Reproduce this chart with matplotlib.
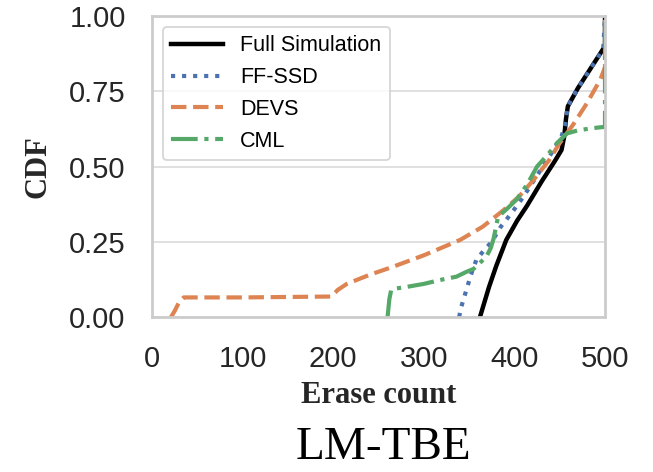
import matplotlib
matplotlib.use("Agg")
import matplotlib.pyplot as plt
import numpy as np

# erase-count CDFs per method
full_x = [362, 365, 372, 380, 391, 403, 414, 430, 445, 452, 455, 457, 459, 470, 485, 500, 500]
full_y = [0, 0.03, 0.10, 0.17, 0.256, 0.32, 0.37, 0.45, 0.52, 0.555, 0.60, 0.66, 0.70, 0.76, 0.83, 0.90, 1.0]

ffssd_x = [339, 341, 344, 348, 352, 358, 366, 375, 385, 398, 410, 425, 440, 452, 456, 459, 470, 485, 498, 500]
ffssd_y = [0, 0.03, 0.06, 0.10, 0.14, 0.19, 0.22, 0.25, 0.30, 0.35, 0.40, 0.47, 0.54, 0.60, 0.64, 0.70, 0.76, 0.83, 0.89, 1.0]

devs_x = [21, 25, 30, 35, 100, 198, 205, 215, 240, 266, 300, 340, 365, 388, 405, 421, 438, 450, 465, 480, 495, 500, 500]
devs_y = [0, 0.02, 0.05, 0.065, 0.065, 0.068, 0.09, 0.11, 0.14, 0.167, 0.205, 0.256, 0.30, 0.355, 0.40, 0.455, 0.52, 0.578, 0.64, 0.71, 0.79, 0.83, 1.0]

cml_x = [260, 261, 262, 264, 270, 281, 300, 318, 336, 347, 355, 362, 369, 374, 377, 382, 392, 402, 414, 425, 437, 447, 458, 470, 485, 500, 500]
cml_y = [0, 0.03, 0.06, 0.09, 0.095, 0.10, 0.11, 0.123, 0.134, 0.15, 0.16, 0.18, 0.20, 0.23, 0.26, 0.333, 0.36, 0.389, 0.44, 0.50, 0.54, 0.578, 0.61, 0.62, 0.627, 0.632, 1.0]

x_ticks = [0, 100, 200, 300, 400, 500]
y_ticks = [0.0, 0.25, 0.5, 0.75, 1.0]

sans = ["Liberation Sans", "DejaVu Sans"]
serif = ["Liberation Serif", "DejaVu Serif"]

fig = plt.figure(figsize=(6.53, 4.72), dpi=100)
ax = fig.add_axes([0.2328, 0.3284, 0.6937, 0.6376])

ax.plot(full_x, full_y, color="black", lw=3.2, ls="-", label="Full Simulation")
ax.plot(ffssd_x, ffssd_y, color="#4C72B0", lw=3, ls=":", label="FF-SSD")
ax.plot(devs_x, devs_y, color="#DD8452", lw=3, ls="--", label="DEVS")
ax.plot(cml_x, cml_y, color="#55A868", lw=3, ls="-.", label="CML")

ax.set_xlim(0, 500)
ax.set_ylim(0, 1.0)
ax.set_xticks(x_ticks)
ax.set_yticks(y_ticks)
ax.set_yticklabels(["%.2f" % v for v in y_ticks])
for lab in ax.get_xticklabels() + ax.get_yticklabels():
    lab.set_family(sans)
    lab.set_fontsize(21)
    lab.set_color("#262626")
ax.tick_params(length=0)
ax.tick_params(axis="y", pad=19)
ax.tick_params(axis="x", pad=20)

ax.grid(axis="y", color="#dddddd", lw=1.3)
ax.set_axisbelow(True)
for sp in ax.spines.values():
    sp.set_color("#cccccc")
    sp.set_linewidth(2)

ax.set_xlabel("Erase count", family=serif, fontweight="bold", fontsize=22, color="#262626", labelpad=6)
ax.set_ylabel("CDF", family=serif, fontweight="bold", fontsize=22, color="#262626", labelpad=12)

leg = ax.legend(loc="upper left", prop={"family": sans, "size": 15.5}, handlelength=2.4,
                frameon=True, fancybox=True, framealpha=0.8, borderpad=0.4,
                labelspacing=0.5, bbox_to_anchor=(0.0, 1.0))
leg.get_frame().set_edgecolor("#cccccc")
leg.get_frame().set_linewidth(1.3)

fig.text(0.5865, 0.052, "LM-TBE", family=serif, fontsize=34, ha="center", va="center", color="black")

fig.savefig("out.png", dpi=100)
